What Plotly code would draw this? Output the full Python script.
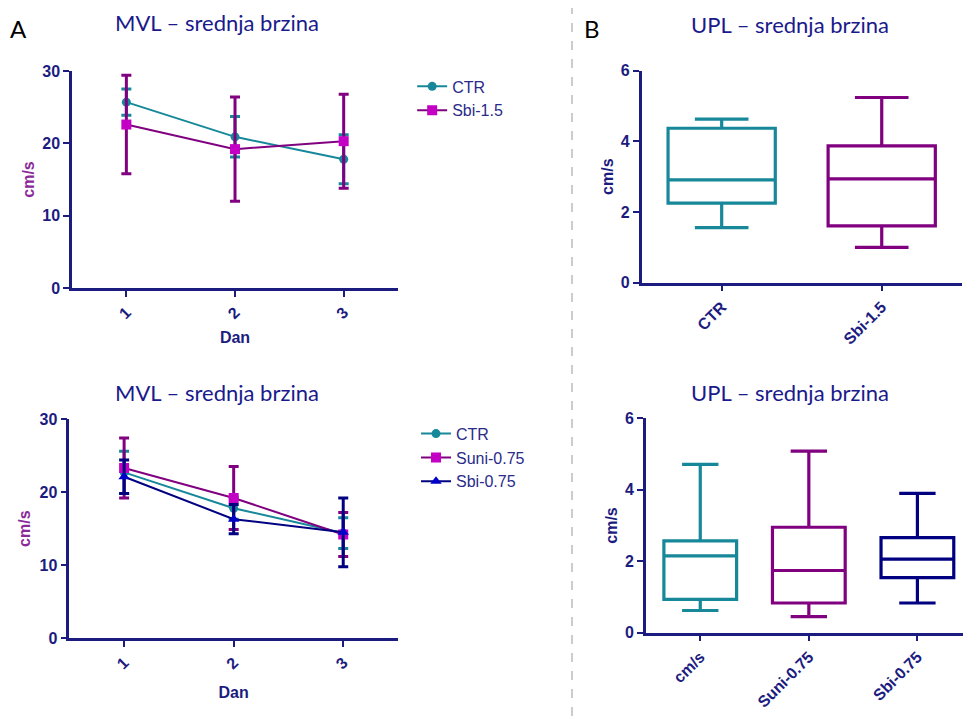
import plotly.graph_objects as go

# ---- Data ----
days = ["1", "2", "3"]
day_pos = [1, 2, 3]

# Top-left: MVL mean speed (CTR vs Sbi-1.5)
tl_ctr_mean = [25.7, 20.9, 17.8]
tl_ctr_err = [1.8, 2.8, 3.4]
tl_sbi15_mean = [22.6, 19.2, 20.3]
tl_sbi15_err = [6.8, 7.2, 6.5]

# Bottom-left: MVL mean speed (CTR, Suni-0.75, Sbi-0.75)
bl_ctr_mean = [22.7, 17.8, 14.4]
bl_ctr_err = [2.9, 1.5, 2.1]
bl_suni_mean = [23.3, 19.2, 14.2]
bl_suni_err = [4.1, 4.3, 3.0]
bl_sbi075_mean = [22.1, 16.3, 14.5]
bl_sbi075_err = [2.3, 2.0, 4.7]

# Top-right: UPL box stats
tr_labels = ["CTR", "Sbi-1.5"]
tr_min = [1.56, 1.00]
tr_q1 = [2.25, 1.61]
tr_median = [2.91, 2.94]
tr_q3 = [4.37, 3.87]
tr_max = [4.63, 5.24]

# Bottom-right: UPL box stats
br_labels = ["cm/s", "Suni-0.75", "Sbi-0.75"]
br_min = [0.62, 0.45, 0.83]
br_q1 = [0.93, 0.83, 1.54]
br_median = [2.15, 1.74, 2.06]
br_q3 = [2.57, 2.95, 2.66]
br_max = [4.71, 5.08, 3.90]

NAVY = "#1c1c80"
TEAL = "#16889a"
PURPLE = "#800080"
MAGENTA = "#c400c4"
DNAVY = "#000080"
BLUE = "#0000c8"
YT_PURPLE = "#8a2a9a"

fig = go.Figure()

def line_trace(x, y, err, name, lcolor, mcolor, symbol, xa, ya, legend, msize=9):
    return go.Scatter(
        x=x, y=y, name=name, mode="lines+markers",
        line=dict(color=lcolor, width=2),
        marker=dict(color=mcolor, symbol=symbol, size=msize, line=dict(width=0)),
        error_y=dict(type="data", array=err, visible=True, color=lcolor, thickness=3, width=5),
        xaxis=xa, yaxis=ya, legend=legend,
    )

# Top-left
fig.add_trace(line_trace(day_pos, tl_ctr_mean, tl_ctr_err, "CTR", TEAL, TEAL, "circle", "x", "y", "legend", 9))
fig.add_trace(line_trace(day_pos, tl_sbi15_mean, tl_sbi15_err, "Sbi-1.5", PURPLE, MAGENTA, "square", "x", "y", "legend", 10))

# Bottom-left
fig.add_trace(line_trace(day_pos, bl_ctr_mean, bl_ctr_err, "CTR", TEAL, TEAL, "circle", "x2", "y2", "legend2", 9))
fig.add_trace(line_trace(day_pos, bl_suni_mean, bl_suni_err, "Suni-0.75", PURPLE, MAGENTA, "square", "x2", "y2", "legend2", 10))
fig.add_trace(line_trace(day_pos, bl_sbi075_mean, bl_sbi075_err, "Sbi-0.75", DNAVY, BLUE, "triangle-up", "x2", "y2", "legend2", 10))

# Boxes
def box_trace(label, mn, q1, med, q3, mx, color, xa, ya):
    return go.Box(
        x=[label], q1=[q1], median=[med], q3=[q3], lowerfence=[mn], upperfence=[mx],
        line=dict(color=color, width=3.2), fillcolor="rgba(255,255,255,0)",
        whiskerwidth=0.5, width=0.67, showlegend=False, boxpoints=False,
        xaxis=xa, yaxis=ya, hoverinfo="skip",
    )

tr_colors = [TEAL, PURPLE]
for i, lab in enumerate(tr_labels):
    fig.add_trace(box_trace(lab, tr_min[i], tr_q1[i], tr_median[i], tr_q3[i], tr_max[i], tr_colors[i], "x3", "y3"))

br_colors = [TEAL, PURPLE, DNAVY]
for i, lab in enumerate(br_labels):
    fig.add_trace(box_trace(lab, br_min[i], br_q1[i], br_median[i], br_q3[i], br_max[i], br_colors[i], "x4", "y4"))

tickfont = dict(family="Liberation Sans", size=16, color=NAVY, weight="bold")
axis_common = dict(showline=True, linecolor=NAVY, linewidth=2.5, ticks="outside",
                   tickcolor=NAVY, tickwidth=2, ticklen=6, showgrid=False, zeroline=False,
                   tickfont=tickfont, automargin=False)
ytitle_font_p = dict(family="Liberation Sans", size=16, color=YT_PURPLE, weight="bold")
ytitle_font_n = dict(family="Liberation Sans", size=16, color=NAVY, weight="bold")
xtitle_font = dict(family="Liberation Sans", size=16, color=NAVY, weight="bold")

fig.update_layout(
    width=963, height=716, margin=dict(l=0, r=0, t=0, b=0, autoexpand=False),
    paper_bgcolor="white", plot_bgcolor="white",
    xaxis=dict(domain=[0.0748, 0.4133], range=[0.5, 3.5], tickvals=day_pos, ticktext=days,
               tickangle=-45, title=dict(text="Dan", font=xtitle_font, standoff=11), anchor="y", **axis_common),
    yaxis=dict(domain=[0.5978, 0.9008], range=[0, 30], tickvals=[0, 10, 20, 30],
               title=dict(text="cm/s", font=ytitle_font_p, standoff=4), anchor="x", **axis_common),
    xaxis2=dict(domain=[0.072, 0.4133], range=[0.5, 3.5], tickvals=day_pos, ticktext=days,
                tickangle=-45, title=dict(text="Dan", font=xtitle_font, standoff=16), anchor="y2", **axis_common),
    yaxis2=dict(domain=[0.1085, 0.4148], range=[0, 30], tickvals=[0, 10, 20, 30],
                title=dict(text="cm/s", font=ytitle_font_p, standoff=5), anchor="x2", **axis_common),
    xaxis3=dict(domain=[0.6663, 0.9987], range=[-0.5, 1.5], type="category",
                categoryorder="array", categoryarray=tr_labels, tickangle=-45, anchor="y3", **axis_common),
    yaxis3=dict(domain=[0.6052, 0.9013], range=[0, 6], tickvals=[0, 2, 4, 6],
                title=dict(text="cm/s", font=ytitle_font_n, standoff=4), anchor="x3", **axis_common),
    xaxis4=dict(domain=[0.6708, 1.0], range=[-0.5, 2.42], type="category",
                categoryorder="array", categoryarray=br_labels, tickangle=-45, anchor="y4", **axis_common),
    yaxis4=dict(domain=[0.1164, 0.4158], range=[0, 6], tickvals=[0, 2, 4, 6],
                title=dict(text="cm/s", font=ytitle_font_n, standoff=4), anchor="x4", **axis_common),
    legend=dict(x=0.428, y=0.903, xanchor="left", yanchor="top",
                font=dict(family="Liberation Sans", size=16, color="#2a2a8a"),
                bgcolor="rgba(0,0,0,0)", tracegroupgap=0, itemwidth=30),
    legend2=dict(x=0.432, y=0.418, xanchor="left", yanchor="top",
                 font=dict(family="Liberation Sans", size=16, color="#2a2a8a"),
                 bgcolor="rgba(0,0,0,0)", tracegroupgap=0, itemwidth=30),
    boxgap=0.33,
)

title_font = dict(family="Lato", size=22, color="#1a1a8c")
annos = [
    dict(text="MVL – srednja brzina", x=217, y=22),
    dict(text="MVL – srednja brzina", x=217, y=392),
    dict(text="UPL – srednja brzina", x=790, y=25),
    dict(text="UPL – srednja brzina", x=790, y=392),
]
for a in annos:
    fig.add_annotation(text=a["text"], x=a["x"] / 963, y=1 - a["y"] / 716, xref="paper", yref="paper",
                       showarrow=False, font=title_font, xanchor="center", yanchor="middle")
fig.add_annotation(text="A", x=18 / 963, y=1 - 28 / 716, xref="paper", yref="paper", showarrow=False,
                   font=dict(family="Lato", size=24, color="black"), xanchor="center", yanchor="middle")
fig.add_annotation(text="B", x=592 / 963, y=1 - 28 / 716, xref="paper", yref="paper", showarrow=False,
                   font=dict(family="Lato", size=24, color="black"), xanchor="center", yanchor="middle")

fig.add_shape(type="line", xref="paper", yref="paper", x0=572 / 963, x1=572 / 963, y0=0, y1=1 - 8 / 716,
              line=dict(color="#999999", width=1, dash="dash"))

fig.write_html("out.html", config={"displayModeBar": False},
               post_script="document.body.style.margin='0';document.body.style.padding='0';"
                           "document.documentElement.style.overflow='hidden';")
